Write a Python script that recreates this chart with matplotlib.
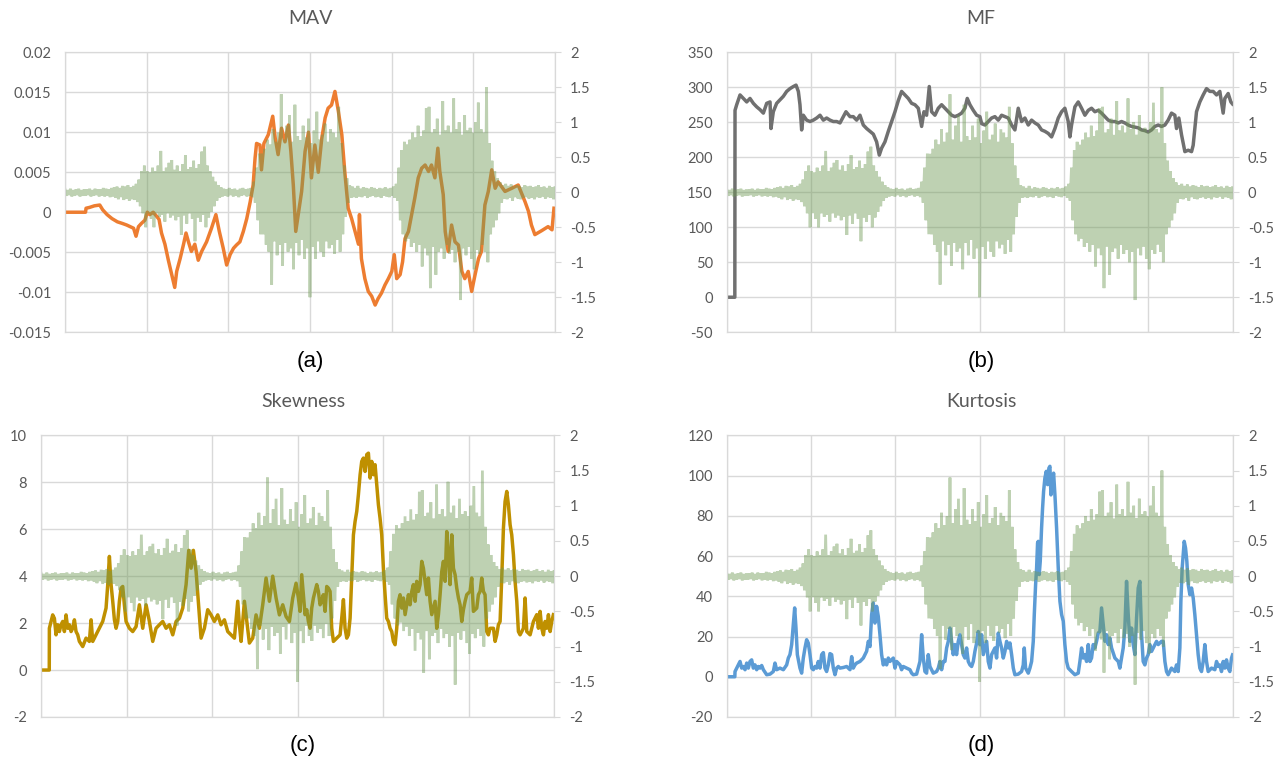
import numpy as np
import matplotlib
matplotlib.use("Agg")
import matplotlib.pyplot as plt

plt.rcParams['font.family'] = ['Lato', 'DejaVu Sans']
plt.rcParams['axes.unicode_minus'] = False

# raw EMG signal (right axis, same in all four panels): upper / lower swing per block
emg_upper = [0.04, 0.03, 0.05, 0.03, 0.04, 0.05, 0.03, 0.04, 0.04, 0.05, 0.03, 0.05, 0.04, 0.04, 0.06, 0.05, 0.04, 0.06,
             0.07, 0.08, 0.06, 0.09, 0.08, 0.1, 0.07, 0.09, 0.12,
             0.18, 0.3, 0.38,
             0.3, 0.28, 0.35, 0.3, 0.38, 0.59, 0.3, 0.35, 0.42, 0.46, 0.32, 0.38, 0.3, 0.4, 0.53, 0.33, 0.36, 0.45,
             0.34, 0.4, 0.58, 0.65, 0.38, 0.3,
             0.22, 0.15, 0.1, 0.07,
             0.05, 0.04, 0.06, 0.04, 0.05, 0.03, 0.05, 0.06, 0.04, 0.05, 0.06,
             0.15, 0.35, 0.55,
             0.55, 0.62, 0.75, 0.68, 0.9, 0.72, 0.85, 1.4, 0.75, 0.95, 1.1, 0.72, 1.25, 0.8, 0.74, 0.95, 0.78, 1.05,
             0.7, 0.88, 1.15, 0.75, 0.82, 0.98, 0.72, 0.9, 0.85, 0.78, 1.22, 0.7,
             0.38, 0.2, 0.1,
             0.08, 0.06, 0.09, 0.05, 0.07, 0.06, 0.05, 0.07, 0.06, 0.04, 0.06, 0.05, 0.07, 0.05, 0.06, 0.08, 0.12,
             0.35, 0.6, 0.72, 0.68, 0.75, 0.85, 0.78, 0.95, 0.8, 0.88, 1.2, 1.22, 0.85, 0.9, 1.05, 0.82, 1.3, 0.88,
             0.95, 0.85, 1.34, 0.9, 1.0, 0.82, 1.1, 0.88, 0.92, 0.85, 1.0, 1.28, 0.9, 0.85, 1.5, 0.7,
             0.45, 0.3, 0.2, 0.14,
             0.1, 0.12, 0.09, 0.11, 0.08, 0.1, 0.09, 0.07, 0.1, 0.08, 0.09, 0.07, 0.08, 0.1, 0.07, 0.08, 0.06, 0.09,
             0.07, 0.08]
emg_lower = [-0.05, -0.04, -0.06, -0.05, -0.04, -0.06, -0.05, -0.05, -0.04, -0.06, -0.05, -0.04, -0.06, -0.05, -0.06,
             -0.05, -0.07, -0.06,
             -0.08, -0.1, -0.07, -0.11, -0.09, -0.12, -0.1, -0.11, -0.14,
             -0.2, -0.3, -0.5,
             -0.3, -0.38, -0.5, -0.3, -0.35, -0.32, -0.42, -0.3, -0.36, -0.33, -0.4, -0.35, -0.61, -0.33, -0.45, -0.3,
             -0.38, -0.7, -0.36, -0.42, -0.32, -0.5, -0.36, -0.28,
             -0.2, -0.12, -0.08, -0.06,
             -0.05, -0.06, -0.04, -0.06, -0.05, -0.07, -0.05, -0.04, -0.06, -0.05, -0.07,
             -0.15, -0.4, -0.6,
             -0.6, -0.75, -0.85, -1.32, -0.7, -0.9, -0.75, -1.05, -0.72, -0.85, -0.8, -1.1, -0.72, -0.9, -0.68, -0.95,
             -0.8, -1.5, -0.78, -0.95, -0.7, -0.85, -0.92, -0.7, -0.8, -0.75, -0.88, -0.68, -0.85, -0.6,
             -0.35, -0.15, -0.08,
             -0.07, -0.08, -0.06, -0.07, -0.05, -0.08, -0.06, -0.05, -0.07, -0.06, -0.08, -0.05, -0.06, -0.07, -0.05,
             -0.08, -0.12,
             -0.4, -0.6, -0.7, -0.66, -0.78, -0.72, -0.85, -0.75, -1.06, -0.8, -0.9, -1.37, -0.78, -1.18, -0.85, -0.8,
             -0.95, -0.75, -0.88, -0.82, -1.0, -0.85, -1.54, -0.8, -0.9, -0.78, -0.95, -1.1, -0.82, -0.88, -0.75,
             -0.85, -1.0, -0.6,
             -0.5, -0.4, -0.3, -0.15,
             -0.09, -0.1, -0.08, -0.12, -0.07, -0.09, -0.1, -0.08, -0.07, -0.09, -0.08, -0.1, -0.07, -0.08, -0.06,
             -0.09, -0.07, -0.08, -0.1, -0.07]

# MAV (a)
mav_t = [0, 42, 43, 50, 60, 71, 77, 86, 96, 107, 117, 126, 133, 140, 145, 150, 156, 163, 168, 173, 180, 187, 192,
         197, 204, 211, 218, 224, 228, 235, 242, 247, 252, 258, 265, 272, 279, 289, 299, 308, 315, 323, 330, 337,
         344, 350, 357, 364, 371, 378, 384, 388, 391, 398, 401, 406, 415, 424, 429, 435, 442, 449, 456, 461, 466,
         471, 476, 483, 490, 497, 503, 510, 517, 524, 531, 537, 544, 551, 558, 565, 571, 578, 585, 592, 599, 601,
         605, 612, 619, 626, 633, 639, 646, 653, 660, 667, 672, 677, 684, 689, 694, 701, 706, 714, 721, 728, 735,
         742, 748, 755, 761, 765, 772, 776, 782, 789, 796, 803, 810, 816, 823, 830, 837, 844, 850, 857, 864, 871,
         878, 884, 898, 912, 925, 939, 946, 952, 959, 973, 986, 994, 998]
mav_v = [0, 0, 0.0005, 0.0006, 0.0008, 0.0009, 0.0003, -0.0003, -0.0008, -0.0012, -0.0014, -0.0016, -0.0018, -0.002,
         -0.003, -0.0018, -0.0014, -0.001, 0.0, -0.0003, 0.0, -0.0005, -0.0009, -0.0026, -0.004, -0.006, -0.0078,
         -0.0094, -0.0074, -0.0058, -0.004, -0.0026, -0.0037, -0.0049, -0.004, -0.006, -0.0049, -0.0037, -0.002,
         -0.0003, -0.0024, -0.0045, -0.0066, -0.0053, -0.0045, -0.0041, -0.0037, -0.0024, -0.0008, 0.0013, 0.0034,
         0.0068, 0.0086, 0.0084, 0.0053, 0.0086, 0.0097, 0.012, 0.0093, 0.0072, 0.0105, 0.0088, 0.0109, 0.0076,
         0.0034, -0.0024, -0.0003, 0.0026, 0.0076, 0.01, 0.0043, 0.0084, 0.005, 0.0092, 0.0118, 0.013, 0.0134,
         0.0151, 0.0126, 0.0097, 0.0051, 0.0005, -0.0008, -0.0024, -0.004, -0.0003, -0.0058, -0.0083, -0.0099,
         -0.0105, -0.0116, -0.0108, -0.0101, -0.0091, -0.0083, -0.0074, -0.0053, -0.0083, -0.0078, -0.0062,
         -0.0033, -0.0024, -0.0008, 0.0018, 0.0043, 0.0055, 0.0059, 0.0051, 0.0059, 0.0043, 0.008, 0.0051, 0.0022,
         -0.0024, -0.0049, -0.0016, -0.0037, -0.0041, -0.0074, -0.0083, -0.0074, -0.0099, -0.0078, -0.0058,
         -0.0049, 0.0009, 0.0026, 0.0053, 0.003, 0.0038, 0.0026, 0.003, 0.0034, 0.0013, 0.0001, -0.0016, -0.0028,
         -0.0023, -0.0018, -0.0022, 0.0005]

# MF (b)
mf_t = [0, 16, 16.4, 19.7, 26.3, 32.9, 39.5, 46, 52.6, 59.2, 65.8, 72.4, 79, 85.6, 87.5, 92.1, 98.7, 105.3, 111.9,
        118.5, 125, 131.7, 137, 141.6, 144.8, 148.1, 151.4, 158, 164.6, 171.2, 177.8, 184.4, 191, 197.5, 204.1,
        210.7, 217.3, 223.9, 230.5, 235.7, 243.7, 250.2, 256.8, 263.4, 270, 276.6, 283.2, 289.8, 296.3, 301.6,
        306.2, 312.8, 319.4, 326, 332.6, 339.2, 345.7, 352.3, 358.9, 365.5, 372.1, 378.7, 385.3, 389.9, 395.1,
        400.4, 405, 411.6, 418.2, 424.8, 431.4, 438, 444.6, 451.1, 457.7, 464.3, 470.9, 475.5, 480.8, 487.4, 494,
        500.5, 503.9, 510.5, 517, 523.6, 530.2, 536.8, 543.4, 550, 556.6, 563.2, 569.7, 576.3, 582.9, 589.5,
        596.1, 602.7, 609.3, 615.9, 622.4, 629, 635.6, 642.2, 648.8, 655.4, 662, 668.5, 675.1, 678.4, 681.7,
        688.3, 694.9, 701.5, 708.1, 714.7, 721.2, 727.8, 734.4, 741, 747.6, 754.2, 760.8, 767.4, 774, 780.5,
        787.1, 793.7, 800.3, 806.9, 813.5, 820.1, 826.6, 833.2, 839.8, 846.4, 853, 859.6, 866.2, 872.7, 879.3,
        885.9, 889.2, 893.8, 899.1, 905.7, 912.3, 918.9, 922.1, 928.7, 935.3, 941.9, 948.5, 955.1, 961.7, 968.3,
        974.8, 981.4, 984.7, 991.3, 996.6, 1000]
mf_v = [0, 0, 267, 275, 289, 284, 279, 284, 277, 272, 268, 263, 277, 279, 241, 265, 277, 282, 287, 294, 298, 301,
        303, 294, 275, 239, 260, 253, 251, 253, 256, 260, 253, 256, 253, 251, 251, 249, 258, 265, 258, 258, 253,
        260, 246, 241, 237, 233, 222, 203, 213, 222, 237, 251, 265, 281, 294, 289, 284, 277, 275, 270, 244, 265,
        260, 301, 265, 260, 270, 275, 270, 265, 260, 258, 260, 263, 270, 284, 275, 267, 260, 258, 248, 246, 251,
        256, 258, 253, 260, 258, 256, 246, 239, 270, 251, 256, 246, 253, 249, 246, 239, 237, 234, 229, 241, 256,
        265, 270, 251, 229, 246, 272, 279, 270, 260, 267, 270, 265, 267, 263, 258, 253, 251, 251, 249, 251, 249,
        246, 244, 243, 242, 239, 238, 236, 239, 244, 246, 244, 246, 253, 263, 260, 241, 256, 232, 208, 210, 208,
        217, 265, 279, 289, 298, 294, 294, 289, 294, 263, 284, 291, 279, 276]

# Skewness (c)
skew_t = [0, 16, 16.2, 19.5, 22.7, 26, 29.2, 32.5, 35.7, 39, 42.2, 45.5, 48.7, 52, 55.2, 58.5, 61.7, 65, 68.2,
          71.5, 74.7, 81.2, 87.7, 94.2, 97.5, 100.7, 107.2, 113.7, 120.2, 126.7, 130, 133.2, 136.5, 139.7, 143,
          146.2, 149.5, 152.7, 156, 159.2, 162.4, 165.7, 172.2, 178.7, 185.2, 191.7, 198.2, 204.7, 211.2, 217.7,
          224.2, 230.7, 237.2, 243.7, 250.2, 256.7, 263.2, 269.7, 276.2, 282.7, 287.9, 292.4, 296.9, 302.2, 308.6,
          311.9, 318.4, 324.9, 331.4, 337.9, 344.4, 350.9, 357.4, 363.9, 370.4, 376.9, 383.4, 386.6, 389.9, 396.4,
          399.6, 406.1, 412.6, 419.1, 425.6, 432.1, 438.6, 445.1, 451.6, 458.1, 464.6, 471.1, 477.6, 484.1, 490.6,
          497.1, 501.6, 504.9, 508.1, 511.4, 514.6, 517.9, 521.1, 524.4, 527.6, 530.9, 537.4, 540.6, 543.9, 547.1,
          550.2, 553.6, 556.9, 560.1, 563.4, 566.6, 569.9, 576.4, 582.9, 586.1, 589.4, 592.6, 595.9, 599.1, 602.4,
          605.6, 608.9, 612.1, 615.4, 618.6, 621.9, 625.1, 628.4, 631.6, 634.9, 638.1, 641.4, 644.6, 647.9, 651.1,
          654.3, 657.6, 660.8, 664.1, 667.3, 670.6, 673.8, 677.1, 680.3, 683.6, 686.8, 690.1, 693.3, 696.6, 699.8,
          703.1, 706.3, 709.6, 712.8, 716.1, 719.3, 722.6, 725.8, 729.1, 732.3, 735.6, 738.8, 742.1, 745.3, 748.6,
          751.8, 755.1, 758.3, 761.6, 764.8, 768.1, 771.3, 774.6, 777.8, 781.1, 784.3, 787.6, 790.8, 794.1, 797.3,
          800.6, 803.8, 807.1, 810.3, 813.6, 816.8, 820.1, 823.3, 826.6, 829.8, 836.3, 839.5, 842.8, 849.3, 852.5,
          855.8, 859, 862.3, 865.5, 868.8, 872, 875.3, 881.8, 885, 888.3, 891.5, 894.8, 898, 901.3, 904.5, 907.8,
          911, 914.3, 917.5, 920.8, 924, 927.3, 930.5, 933.8, 940.3, 943.5, 946.8, 953.3, 956.5, 959.8, 966.3,
          969.5, 972.8, 976, 979.3, 982.5, 985.8, 989, 992.3, 995.5, 998.7]
skew_v = [0, 0, 1.78, 2.07, 2.35, 2.2, 1.5, 1.93, 1.64, 1.93, 2.07, 1.64, 2.35, 1.78, 1.93, 1.64, 1.78, 2.14, 1.64,
          1.5, 1.22, 1.0, 1.36, 1.22, 2.14, 1.22, 1.5, 1.78, 2.07, 2.64, 3.64, 4.84, 3.64, 2.93, 2.14, 1.78, 2.07,
          2.93, 3.49, 3.56, 2.78, 2.07, 1.78, 1.64, 1.85, 2.78, 1.78, 2.78, 2.07, 1.22, 1.78, 1.93, 2.07, 1.78, 1.93,
          1.5, 2.07, 2.21, 2.64, 3.64, 5.1, 4.34, 5.1, 4.2, 2.35, 1.36, 1.78, 2.57, 2.35, 2.07, 2.35, 1.93, 2.14,
          1.64, 1.5, 1.36, 2.93, 1.93, 1.22, 2.93, 2.35, 1.15, 1.36, 2.35, 1.78, 2.78, 3.92, 2.93, 4.0, 3.07, 2.35,
          2.78, 2.28, 2.07, 3.07, 3.7, 3.07, 2.5, 4.06, 3.21, 2.36, 2.57, 2.07, 1.78, 2.64, 3.07, 3.64, 3.35, 2.78,
          2.93, 3.21, 2.5, 3.56, 3.49, 3.35, 1.78, 1.22, 1.36, 1.5, 2.21, 3.0, 1.78, 1.36, 1.5, 2.21, 3.92, 5.76,
          6.33, 6.76, 7.47, 8.32, 8.89, 9.03, 8.46, 9.18, 9.24, 8.18, 8.89, 8.32, 8.75, 7.9, 7.04, 6.47, 5.76, 4.34,
          3.21, 2.21, 2.07, 1.78, 1.64, 1.22, 1.08, 1.78, 2.93, 3.21, 2.64, 3.07, 2.36, 2.78, 3.21, 2.78, 3.35,
          3.64, 2.93, 3.78, 3.35, 3.64, 4.63, 4.34, 3.78, 3.21, 3.92, 2.93, 2.36, 2.64, 2.93, 1.78, 2.36, 3.21, 4.2,
          4.63, 3.78, 5.9, 4.91, 3.64, 5.76, 4.34, 4.06, 3.49, 3.07, 2.78, 2.07, 2.57, 2.93, 3.21, 3.35, 3.92, 2.5,
          2.64, 3.21, 3.35, 3.92, 3.35, 3.21, 1.64, 1.5, 1.78, 1.78, 1.22, 1.5, 1.93, 2.07, 3.92, 6.05, 7.18, 7.61,
          7.04, 6.19, 5.76, 4.91, 3.78, 2.93, 1.64, 1.5, 1.78, 3.07, 1.64, 1.5, 1.78, 2.07, 2.36, 1.78, 2.5, 1.78,
          1.5, 2.07, 1.78, 2.36, 1.64, 2.07, 2.36]

# Kurtosis (d)
kurt_t = [0, 16, 16.4, 19.7, 23, 26.3, 29.6, 32.9, 36.2, 39.5, 42.7, 46, 49.3, 52.6, 55.9, 59.2, 62.5, 65.8, 69.1,
          72.4, 79, 85.6, 92.1, 95.4, 98.7, 105.3, 111.9, 118.5, 121.8, 125, 128.4, 131.7, 134.3, 136.9, 139.6,
          144.8, 148.1, 151.4, 154.7, 158, 161.3, 164.6, 167.9, 171.2, 174.5, 177.8, 181, 184.4, 187.7, 191, 194.2,
          197.5, 200.8, 204.1, 207.4, 210.7, 214, 217.3, 220.6, 223.9, 230.5, 237.1, 243.7, 247, 250.2, 253.5,
          256.8, 263.4, 270, 276.6, 279.9, 283.2, 286.5, 289.8, 293, 296.3, 299.6, 302.9, 306.2, 309.5, 312.8,
          316.1, 319.4, 322.7, 329.3, 332.6, 335.9, 342.5, 345.7, 349, 355.6, 362.2, 365.5, 368.8, 375.4, 382,
          385.3, 388.6, 391.8, 395.1, 398.4, 401.7, 408.3, 414.9, 418.2, 421.5, 424.8, 428.1, 431.4, 434.7, 438,
          441.3, 444.6, 447.8, 451.1, 454.4, 457.7, 461, 464.3, 467.6, 470.9, 474.2, 477.5, 480.8, 484.1, 487.4,
          490.7, 494, 497.3, 500.6, 503.9, 507.2, 510.5, 513.8, 517, 520.3, 523.6, 526.9, 530.2, 533.5, 536.8,
          540.1, 543.4, 546.7, 550, 553.3, 556.6, 559.9, 563.2, 566.5, 569.7, 576.3, 582.9, 586.2, 588.2, 590.8,
          596.1, 599.4, 602.7, 606, 608, 610.6, 612.6, 614.5, 615.9, 617.8, 619.8, 622.4, 624.4, 626.4, 629, 631.7,
          634.3, 636.9, 638.9, 640.9, 643.5, 646.2, 648.8, 652.1, 655.4, 658.7, 662, 665.3, 668.5, 671.8, 675.1,
          681.7, 688.3, 694.9, 698.2, 701.5, 704.8, 708.1, 711.4, 714.7, 718, 721.2, 724.5, 727.8, 731.1, 734.4,
          737.7, 741, 744.3, 747.6, 750.9, 754.2, 757.5, 760.8, 767.4, 774, 777.2, 780.5, 783.8, 787.1, 790.4,
          793.7, 797, 800.3, 803.6, 806.9, 810.2, 813.5, 816.8, 820.1, 823.3, 826.6, 829.9, 833.2, 836.5, 839.8,
          843.1, 846.4, 849.7, 853, 859.6, 862.9, 866.2, 869.4, 872.7, 879.3, 885.9, 889.2, 892.5, 895.8, 897.8,
          900.4, 902.4, 904.4, 907, 909.6, 912.3, 915.6, 918.9, 922.2, 925.4, 928.7, 932, 935.3, 938.6, 941.9,
          945.2, 948.5, 951.8, 958.4, 965, 968.3, 971.6, 974.9, 978.1, 981.4, 984.7, 988, 991.3, 994.6, 997.9, 1000]
kurt_v = [0, 0, 2.6, 4.3, 5.9, 7.6, 4.3, 5.1, 3.5, 6.8, 4.3, 7.6, 8.4, 4.3, 5.9, 3.5, 5.1, 4.3, 5.6, 3.5, 1.0, 1.3,
          2.6, 6.8, 3.5, 4.3, 3.5, 5.9, 9.3, 11, 16, 25.9, 34.2, 24.2, 11, 4.3, 1.8, 9.3, 14.3, 18.4, 16.7, 11, 4.3,
          3.5, 5.1, 4.3, 7.6, 4.3, 11, 12, 4.3, 2.6, 5.9, 11.5, 11, 4.3, 1.0, 4.3, 5.1, 4.3, 4.6, 5.1, 3.5, 10, 4.3,
          5.9, 6.8, 7.6, 9.3, 12.7, 17.6, 15, 30.9, 36.7, 26.7, 35, 30, 20.9, 11, 5.9, 8.4, 5.9, 9.3, 7.6, 9.3, 4.3,
          7.6, 5.9, 3.5, 5.1, 4.3, 3.5, 1.8, 1.0, 1.3, 7.6, 20.9, 9.3, 2.6, 1.8, 11, 5.1, 1.8, 2.6, 4.3, 7.6, 3.5,
          7.6, 7.6, 14.3, 17.6, 24.2, 17.6, 11, 16, 11, 17.6, 20.9, 16, 11, 9.3, 14.3, 7.6, 5.9, 5.1, 7.6, 12.7,
          16.7, 22.5, 15.9, 20.9, 11, 14.3, 17.6, 7.6, 4.3, 11, 12.6, 14.3, 9.3, 21.7, 17.6, 14.3, 9.3, 12.6, 17.6,
          14.3, 16.8, 11, 4.3, 1.0, 1.3, 2.6, 5.9, 14.3, 4.3, 1.8, 4.3, 7.6, 17.6, 30.9, 45.8, 54.1, 66.5, 67.3,
          50.8, 57.4, 73.9, 83.8, 92.1, 98.8, 102.1, 95.5, 103.7, 104.6, 90.4, 97.1, 101.2, 90.4, 73.9, 54.1, 37.5,
          30.9, 27.6, 16, 7.6, 4.3, 2.6, 1.0, 1.8, 7.6, 14.3, 9.3, 11, 7.6, 16, 7.6, 9.3, 16, 14.3, 17.6, 21.7, 22.5,
          34.2, 25.9, 17.6, 20.9, 16, 19.2, 14.3, 9.3, 7.6, 4.3, 9.3, 14.3, 24.2, 47.4, 30.9, 17.6, 24.2, 16, 11,
          29.2, 44.1, 47.4, 20.9, 7.6, 5.9, 9.3, 11, 16, 12.6, 14.3, 16, 17.6, 16, 17.6, 17.6, 7.6, 2.6, 1.0, 4.3,
          2.6, 5.9, 2.6, 14.3, 37.5, 54.1, 60.7, 67.3, 64, 57.4, 45.8, 40.8, 44.1, 39.1, 30.9, 20.9, 11, 4.3, 2.6,
          7.6, 16, 7.6, 2.6, 4.3, 3.5, 7.6, 5.1, 5.9, 2.6, 7.6, 4.3, 8.4, 4.3, 2.6, 9.3, 10.9]

mav_ticks = [-0.015, -0.01, -0.005, 0, 0.005, 0.01, 0.015, 0.02]
mf_ticks = [-50, 0, 50, 100, 150, 200, 250, 300, 350]
skew_ticks = [-2, 0, 2, 4, 6, 8, 10]
kurt_ticks = [-20, 0, 20, 40, 60, 80, 100, 120]
emg_ticks = [-2, -1.5, -1, -0.5, 0, 0.5, 1, 1.5, 2]

grid_c = '#d9d9d9'
text_c = '#595959'
emg_c = '#6f9a55'

fig = plt.figure(figsize=(12.79, 7.58), dpi=100)

# zigzag through the swings: upper at each block start, lower half a block later
n = len(emg_upper)
step = 1000 / (n - 1)
t_up = np.arange(n) * step
t_lo = np.minimum(t_up + step / 2, 1000)
emg_t = np.column_stack([t_up, t_lo]).ravel()
emg_v = np.column_stack([emg_upper, emg_lower]).ravel()


def panel(rect, t, v, color, ticks, title, tag, cx):
    ax = fig.add_axes(rect)
    ax.plot(t, v, color=color, lw=2.5, solid_joinstyle='round')
    ax.set_xlim(0, 1000)
    ax.set_ylim(ticks[0], ticks[-1])
    ax.set_yticks(ticks)
    ax.set_yticklabels([f'{x:g}' for x in ticks])
    ax.set_xticks(np.linspace(0, 1000, 7))
    ax.set_xticklabels([])
    ax.grid(True, color=grid_c, lw=1)
    ax.tick_params(axis='both', length=0, labelcolor=text_c, labelsize=10.5, pad=10)
    for s in ax.spines.values():
        s.set_color(grid_c)

    # raw signal on the secondary axis, drawn over the feature line
    ax2 = ax.twinx()
    ax2.plot(emg_t, emg_v, color=emg_c, alpha=0.45, lw=2.0, solid_joinstyle='miter')
    ax2.set_ylim(-2, 2)
    ax2.set_yticks(emg_ticks)
    ax2.set_yticklabels([f'{x:g}' for x in emg_ticks])
    ax2.tick_params(axis='y', length=4, color=grid_c, labelcolor=text_c, labelsize=10.5, pad=7)
    for s in ax2.spines.values():
        s.set_color(grid_c)

    top = rect[1] + rect[3]
    fig.text(cx, top + 0.044, title, ha='center', va='center', fontsize=14, color=text_c)
    fig.text(cx, rect[1] - 0.038, tag, ha='center', va='center', fontsize=16, color='black',
             family=['Liberation Sans', 'DejaVu Sans'])
    return ax


panel([0.0508, 0.5617, 0.3831, 0.3694], mav_t, mav_v, '#ed7d31', mav_ticks, 'MAV', '(a)', 0.2424)
panel([0.5682, 0.5617, 0.3955, 0.3694], mf_t, mf_v, '#707070', mf_ticks, 'MF', '(b)', 0.7670)
panel([0.0321, 0.0541, 0.4011, 0.3716], skew_t, skew_v, '#bf9000', skew_ticks, 'Skewness', '(c)', 0.2369)
panel([0.5682, 0.0541, 0.3955, 0.3716], kurt_t, kurt_v, '#5b9bd5', kurt_ticks, 'Kurtosis', '(d)', 0.7670)

fig.savefig('out.png', dpi=100)
